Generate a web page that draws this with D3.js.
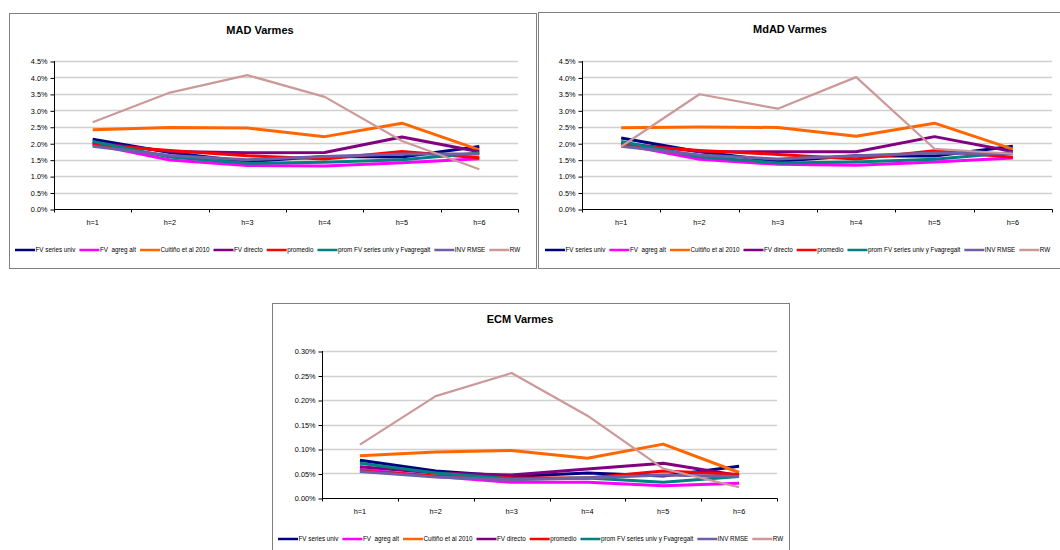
<!DOCTYPE html>
<html>
<head>
<meta charset="utf-8">
<script src="https://cdn.jsdelivr.net/npm/d3@7"></script>
<style>
  html, body { margin: 0; padding: 0; background: #fff; }
  svg { display: block; }
  text { font-family: "Liberation Sans", Arial, sans-serif; fill: #000; }
</style>
</head>
<body>
<svg id="chart" width="1060" height="550"></svg>
<script>
// Forecast horizons
const horizons = ["h=1", "h=2", "h=3", "h=4", "h=5", "h=6"];

// Series names (legend order)
const seriesNames = ["FV series univ", "FV  agreg alt", "Cuitiño et al 2010", "FV directo",
                     "promedio", "prom FV series univ y Fvagregalt", "INV RMSE", "RW"];
const seriesColors = ["#000080", "#FF00FF", "#FF6600", "#800080", "#FF0000", "#008080", "#6E5FA6", "#CC9999"];

// MAD Varmes (%)
const madUniv    = [2.12, 1.72, 1.44, 1.60, 1.58, 1.90];
const madAgreg   = [1.97, 1.49, 1.32, 1.31, 1.41, 1.53];
const madCuitino = [2.41, 2.48, 2.46, 2.20, 2.61, 1.80];
const madDirecto = [2.02, 1.75, 1.71, 1.72, 2.19, 1.74];
const madProm    = [1.95, 1.78, 1.62, 1.52, 1.75, 1.56];
const madPromFV  = [2.05, 1.58, 1.39, 1.42, 1.50, 1.70];
const madInv     = [1.91, 1.63, 1.50, 1.60, 1.67, 1.67];
const madRW      = [2.64, 3.54, 4.07, 3.41, 2.07, 1.21];

// MdAD Varmes (%)
const mdadUniv    = [2.16, 1.74, 1.45, 1.62, 1.61, 1.91];
const mdadAgreg   = [1.97, 1.51, 1.36, 1.33, 1.43, 1.55];
const mdadCuitino = [2.47, 2.49, 2.48, 2.21, 2.61, 1.82];
const mdadDirecto = [2.00, 1.75, 1.74, 1.74, 2.20, 1.75];
const mdadProm    = [1.95, 1.78, 1.66, 1.52, 1.77, 1.57];
const mdadPromFV  = [2.05, 1.59, 1.40, 1.43, 1.51, 1.72];
const mdadInv     = [1.91, 1.64, 1.52, 1.62, 1.70, 1.68];
const mdadRW      = [1.90, 3.49, 3.05, 4.01, 1.83, 1.68];

// ECM Varmes (%)
const ecmUniv    = [0.077, 0.055, 0.044, 0.051, 0.045, 0.065];
const ecmAgreg   = [0.058, 0.044, 0.032, 0.032, 0.025, 0.030];
const ecmCuitino = [0.086, 0.094, 0.097, 0.081, 0.110, 0.052];
const ecmDirecto = [0.064, 0.051, 0.047, 0.059, 0.071, 0.046];
const ecmProm    = [0.055, 0.045, 0.041, 0.041, 0.055, 0.048];
const ecmPromFV  = [0.071, 0.051, 0.039, 0.041, 0.032, 0.044];
const ecmInv     = [0.054, 0.043, 0.037, 0.041, 0.047, 0.044];
const ecmRW      = [0.109, 0.208, 0.255, 0.168, 0.060, 0.022];

// Y axis tick values
const pctTicks = [0, 0.5, 1.0, 1.5, 2.0, 2.5, 3.0, 3.5, 4.0, 4.5];
const ecmTicks = [0, 0.05, 0.10, 0.15, 0.20, 0.25, 0.30];

const svg = d3.select("#chart");

function drawChart(cfg) {
  const g = svg.append("g");
  // chart frame
  g.append("rect")
    .attr("x", cfg.frame[0] + 0.5).attr("y", cfg.frame[1] + 0.5)
    .attr("width", cfg.frame[2]).attr("height", cfg.frame[3])
    .attr("fill", "#fff").attr("stroke", "#7f7f7f").attr("stroke-width", 1);

  g.append("text")
    .attr("x", cfg.titleX).attr("y", cfg.titleY)
    .attr("text-anchor", "middle").attr("fill", "#000")
    .attr("font-size", "11px").attr("font-weight", "bold")
    .text(cfg.title);

  const x = d3.scaleBand().domain(horizons).range([cfg.left, cfg.right]);
  const y = d3.scaleLinear().domain([0, cfg.yMax]).range([cfg.bottom, cfg.top]);

  // horizontal gridlines
  g.append("g").selectAll("line").data(cfg.ticks.filter(t => t > 0)).join("line")
    .attr("x1", cfg.left).attr("x2", cfg.right)
    .attr("y1", d => Math.round(y(d)) + 0.5).attr("y2", d => Math.round(y(d)) + 0.5)
    .attr("stroke", "#d0d0d0").attr("stroke-width", 1.5);

  // y axis
  const yAxis = d3.axisLeft(y).tickValues(cfg.ticks).tickSize(4).tickPadding(3)
    .tickFormat(cfg.fmt);
  const ya = g.append("g").attr("transform", `translate(${cfg.left + 0.5},0.5)`).call(yAxis);
  ya.selectAll("text").attr("font-size", "7.3px").attr("fill", "#000")
    .attr("font-family", "Liberation Sans, Arial, sans-serif");
  ya.selectAll("line,path").attr("stroke", "#000");
  ya.select(".domain").attr("d", `M0,${cfg.top - 0.5}V${cfg.bottom}`);

  // x axis with ticks at category boundaries
  const xa = g.append("g").attr("transform", `translate(0,${cfg.bottom + 0.5})`);
  xa.append("line").attr("x1", cfg.left).attr("x2", cfg.right + 0.5).attr("stroke", "#000");
  const bounds = horizons.map(h => x(h)).concat([cfg.right]);
  xa.selectAll("line.tk").data(bounds).join("line").attr("class", "tk")
    .attr("x1", d => Math.round(d) + 0.5).attr("x2", d => Math.round(d) + 0.5)
    .attr("y1", 0).attr("y2", 3).attr("stroke", "#000");
  xa.selectAll("text.hl").data(horizons).join("text").attr("class", "hl")
    .attr("x", d => x(d) + x.bandwidth() / 2).attr("y", 15)
    .attr("text-anchor", "middle").attr("font-size", "7.3px").attr("fill", "#000")
    .text(d => d);

  // series lines
  const line = d3.line().x((d, i) => x(horizons[i]) + x.bandwidth() / 2).y(d => y(d));
  cfg.series.forEach((vals, i) => {
    g.append("path").datum(vals)
      .attr("d", line).attr("fill", "none")
      .attr("stroke", seriesColors[i])
      .attr("stroke-width", i === 7 ? 2.2 : 3)
      .attr("stroke-linejoin", "round");
  });

  // legend
  const lg = g.append("g").attr("transform", `translate(${cfg.legendX},${cfg.legendY})`);
  let cx = 0;
  seriesNames.forEach((name, i) => {
    lg.append("line").attr("x1", cx).attr("x2", cx + 20).attr("y1", 0).attr("y2", 0)
      .attr("stroke", seriesColors[i]).attr("stroke-width", 2.5);
    const t = lg.append("text").attr("x", cx + 20.5).attr("y", 2.3).attr("fill", "#000")
      .attr("font-size", "6.3px").attr("xml:space", "preserve").text(name);
    cx += 20.5 + t.node().getComputedTextLength() + 4;
  });
}

const pctFmt = d => d.toFixed(1) + "%";
const ecmFmt = d => d.toFixed(2) + "%";

drawChart({
  frame: [9, 13, 527, 255], title: "MAD Varmes", titleX: 260, titleY: 33.5,
  left: 54, right: 518, top: 61, bottom: 209, yMax: 4.5, ticks: pctTicks, fmt: pctFmt,
  series: [madUniv, madAgreg, madCuitino, madDirecto, madProm, madPromFV, madInv, madRW],
  legendX: 15, legendY: 250
});

drawChart({
  frame: [538, 12, 530, 256], title: "MdAD Varmes", titleX: 790, titleY: 33,
  left: 582, right: 1052, top: 61, bottom: 209, yMax: 4.5, ticks: pctTicks, fmt: pctFmt,
  series: [mdadUniv, mdadAgreg, mdadCuitino, mdadDirecto, mdadProm, mdadPromFV, mdadInv, mdadRW],
  legendX: 545, legendY: 250
});

drawChart({
  frame: [272, 303, 517, 260], title: "ECM Varmes", titleX: 520, titleY: 323,
  left: 322, right: 777, top: 351, bottom: 498, yMax: 0.30, ticks: ecmTicks, fmt: ecmFmt,
  series: [ecmUniv, ecmAgreg, ecmCuitino, ecmDirecto, ecmProm, ecmPromFV, ecmInv, ecmRW],
  legendX: 278, legendY: 539
});
</script>
</body>
</html>
